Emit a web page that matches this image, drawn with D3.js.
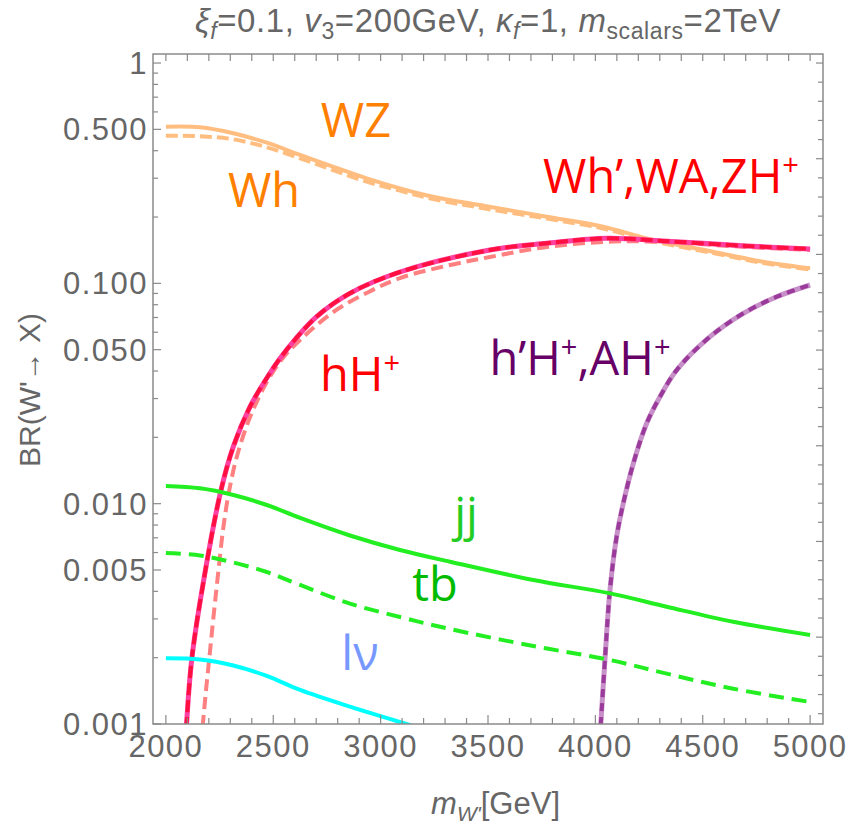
<!DOCTYPE html>
<html><head><meta charset="utf-8">
<script src="https://cdn.jsdelivr.net/npm/d3@7"></script>
<style>body{margin:0;background:#fff}</style>
</head><body>
<svg id="c" width="852" height="825"></svg>
<script>
// ---- data (m_W' in GeV, BR) ----
const mWZ  = [2000,2159,2314,2470,2625,2778,2935,3090,3244,3486,3773,4036,4239,4548,4781,5000];
const brWZ = [0.514,0.511,0.480,0.435,0.3825,0.3384,0.2997,0.270,0.2473,0.2245,0.2007,0.1808,0.1601,0.1392,0.1254,0.1170];
const mWh  = mWZ;
const brWh = [0.4679,0.4650,0.4507,0.4145,0.3695,0.3269,0.2893,0.2634,0.2415,0.2187,0.1969,0.1774,0.1573,0.1373,0.1237,0.1156];
const mWhp  = [2095,2120,2174,2255,2314,2392,2470,2547,2702,2857,3090,3509,3773,4053,4315,4705,5000];
const brWhp = [0.00095,0.00195,0.00437,0.01133,0.01814,0.02755,0.0372,0.04779,0.07059,0.0901,0.1126,0.1417,0.1520,0.1601,0.1557,0.1478,0.1432];
const mhH  = [2171,2187,2205,2224,2244,2266,2291,2330,2392,2470,2545,2625,2780,2935,3090,3323,3509,3773,4082,4315,4705,5000];
const brhH = [0.00097,0.001427,0.00212,0.003223,0.004897,0.007598,0.01095,0.01628,0.02473,0.03566,0.04584,0.05532,0.07413,0.09043,0.1057,0.1211,0.1317,0.1462,0.1549,0.1541,0.1462,0.1417];
const mhpH  = [4025,4045,4068,4099,4130,4177,4239,4301,4379,4534,4689,4845,5000];
const brhpH = [0.00099,0.001987,0.004057,0.007082,0.01004,0.01526,0.02316,0.03059,0.04043,0.05727,0.07311,0.08697,0.0983];
const mjj  = [2000,2159,2314,2470,2625,2857,3090,3323,3711,4068,4332,4642,5000];
const brjj = [0.01203,0.01174,0.01095,0.009863,0.00861,0.00717,0.006164,0.005453,0.004504,0.003918,0.003407,0.002912,0.002535];
const mtb  = mjj;
const brtb = [0.005971,0.005818,0.005408,0.004897,0.004275,0.003522,0.003059,0.002699,0.002259,0.001952,0.001692,0.001446,0.001259];
const mlv  = [2000,2159,2314,2470,2625,2857,3152];
const brlv = [0.001987,0.001963,0.001843,0.001652,0.001427,0.001198,0.000979];

const xTicks = [2000,2500,3000,3500,4000,4500,5000];
const yTicks = [0.001,0.005,0.010,0.050,0.100,0.500,1];
const yTickLabels = ["0.001","0.005","0.010","0.050","0.100","0.500","1"];

// ---- layout ----
const L=153, R=823, T=54, B=724;
const svg = d3.select("#c");
const x = d3.scaleLinear().domain([1940,5060]).range([L,R]);
const y = d3.scaleLog().domain([0.001, Math.pow(10,0.041)]).range([B,T]);
const gray = "#666", frame="#8a8a8a";

svg.append("defs").append("clipPath").attr("id","clip")
  .append("rect").attr("x",L).attr("y",T).attr("width",R-L).attr("height",B-T);

const line = d3.line().x(d=>x(d[0])).y(d=>y(d[1])).curve(d3.curveCatmullRom.alpha(0.5));
const zip = (a,b)=>a.map((v,i)=>[v,b[i]]);
const plot = svg.append("g").attr("clip-path","url(#clip)");
function draw(ms, bs, color, width, dash){
  plot.append("path").attr("d", line(zip(ms,bs))).attr("fill","none")
    .attr("stroke",color).attr("stroke-width",width)
    .attr("stroke-dasharray",dash||null);
}
draw(mWZ, brWZ, "#ffbe80", 4);
draw(mWh, brWh, "#ffbe80", 4, "12,5");
draw(mhH, brhH, "#ff8080", 4, "12,6");
draw(mWhp, brWhp, "#ff40a0", 5);
draw(mWhp, brWhp, "#ff1040", 4, "12,5");
draw(mhpH, brhpH, "#c890c8", 5);
draw(mhpH, brhpH, "#9a3a9a", 4, "8,6");
draw(mjj, brjj, "#22ee22", 4);
draw(mtb, brtb, "#22ee22", 4, "15,8");
draw(mlv, brlv, "#00ffff", 4);

// ---- frame ----
svg.append("rect").attr("x",L).attr("y",T).attr("width",R-L).attr("height",B-T)
  .attr("fill","none").attr("stroke",frame).attr("stroke-width",1.5);

const ax = svg.append("g").attr("stroke",frame).attr("stroke-width",1.2);
for(let m=2000;m<=5000;m+=100){
  const major = m%500===0;
  ax.append("line").attr("x1",x(m)).attr("x2",x(m)).attr("y1",B).attr("y2",B-(major?9:6));
  ax.append("line").attr("x1",x(m)).attr("x2",x(m)).attr("y1",T).attr("y2",T+7);
}
for(let e=-3;e<=0;e++){
  for(let k=1;k<=9;k++){
    const v=k*Math.pow(10,e);
    if(v>1.05) break;
    const major = (k===1||k===5);
    ax.append("line").attr("x1",L).attr("x2",L+(major?8:5)).attr("y1",y(v)).attr("y2",y(v));
  }
}
for(let t=-34;t<=0;t++){
  const v=Math.exp(t*0.2);
  if(v<0.001) continue;
  const major = t%5===0;
  ax.append("line").attr("x1",R).attr("x2",R-(major?7:5)).attr("y1",y(v)).attr("y2",y(v));
}

// tick labels
const tl = svg.append("g").attr("fill",gray).attr("font-family","Liberation Sans, Arial, sans-serif")
  .attr("font-size",31).style("letter-spacing","1.5px");
xTicks.forEach(m=>tl.append("text").attr("x",x(m)).attr("y",B+33).attr("text-anchor","middle").text(m));
yTicks.forEach((v,i)=>tl.append("text").attr("x",L-5).attr("y",y(v)+11).attr("text-anchor","end").text(yTickLabels[i]));

// axis labels
svg.append("text").attr("transform","translate(40,390) rotate(-90)").attr("text-anchor","middle")
  .attr("fill",gray).attr("font-family","Liberation Sans, Arial, sans-serif").attr("font-size",30)
  .text("BR(W'→ X)");
const xl = svg.append("text").attr("x",560).attr("y",814).attr("text-anchor","end")
  .attr("fill",gray).attr("font-family","Liberation Sans, Arial, sans-serif").attr("font-size",31);
xl.append("tspan").attr("font-style","italic").text("m");
xl.append("tspan").attr("font-style","italic").attr("font-size",21).attr("dy",7).text("W'");
xl.append("tspan").attr("dy",-7).text("[GeV]");

// title
const tt = svg.append("text").attr("x",488).attr("y",32).attr("text-anchor","middle")
  .attr("fill",gray).attr("font-family","Liberation Sans, Arial, sans-serif").attr("font-size",33)
  .style("letter-spacing","0.6px");
const parts = [["ξ","i"],["f","si"],["=0.1, ",""],["v","i"],["3","s"],["=200GeV, ",""],["κ","i"],["f","si"],["=1, ",""],["m","i"],["scalars","s"],["=2TeV",""]];
let sub=false;
parts.forEach(([s,f])=>{
  const isSub=f.includes("s");
  const ts=tt.append("tspan").text(s);
  if(f.includes("i")) ts.attr("font-style","italic");
  if(isSub){ ts.attr("font-size",23); if(!sub) ts.attr("dy",7); }
  else if(sub){ ts.attr("dy",-7); }
  sub=isSub;
});

// curve labels
function lab(txt, sup, cx, by, color){
  const t = svg.append("text").attr("x",cx).attr("y",by).attr("text-anchor","middle")
    .attr("fill",color).attr("font-family","Open Sans, sans-serif").attr("font-size",47);
  txt.forEach((s,i)=>{
    t.append("tspan").attr("dy", i===0?0:(sup[i-1]?18:0)).text(s);
    if(sup[i]) t.append("tspan").attr("font-size",29).attr("dy",-18).text("+");
  });
}
lab(["WZ"],[false],356,137,"#ff8000");
lab(["Wh"],[false],264,207,"#ff8000");
lab(["Wh’,WA,ZH"],[true],671,193,"#ff0000");
lab(["hH"],[true],360,391,"#ff0000");
lab(["h’H",",AH"],[true,true],580,375,"#660066");
lab(["jj"],[false],466,531,"#22cc22");
lab(["tb"],[false],435,601,"#00bb00");
lab(["lν"],[false],360,670,"#7799ff");
</script>
</body></html>
